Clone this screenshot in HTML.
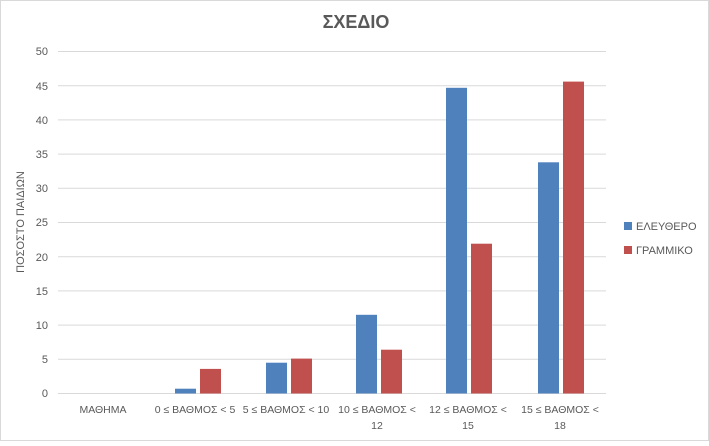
<!DOCTYPE html>
<html><head><meta charset="utf-8"><style>
body{margin:0;background:#fff}
svg text{font-family:"Liberation Sans",sans-serif;fill:#595959}
</style></head><body>
<svg width="709" height="441" viewBox="0 0 709 441" xmlns="http://www.w3.org/2000/svg">
<rect x="0.5" y="0.5" width="708" height="440" fill="#fff" stroke="#d9d9d9"/>
<text x="356" y="28" font-size="18" font-weight="bold" text-anchor="middle">ΣΧΕΔΙΟ</text>
<g stroke="#d9d9d9" stroke-width="1">
<line x1="58" x2="606" y1="51.5" y2="51.5"/>
<line x1="58" x2="606" y1="85.7" y2="85.7"/>
<line x1="58" x2="606" y1="119.9" y2="119.9"/>
<line x1="58" x2="606" y1="154.1" y2="154.1"/>
<line x1="58" x2="606" y1="188.3" y2="188.3"/>
<line x1="58" x2="606" y1="222.5" y2="222.5"/>
<line x1="58" x2="606" y1="256.7" y2="256.7"/>
<line x1="58" x2="606" y1="290.9" y2="290.9"/>
<line x1="58" x2="606" y1="325.1" y2="325.1"/>
<line x1="58" x2="606" y1="359.3" y2="359.3"/>
<line x1="58" x2="606" y1="393.5" y2="393.5"/>
</g>
<g font-size="11" text-anchor="end">
<text x="48" y="55">50</text><text x="48" y="90">45</text><text x="48" y="124">40</text>
<text x="48" y="158">35</text><text x="48" y="192">30</text><text x="48" y="226">25</text>
<text x="48" y="261">20</text><text x="48" y="295">15</text><text x="48" y="329">10</text>
<text x="48" y="363">5</text><text x="48" y="397">0</text>
</g>
<text transform="translate(24,222) rotate(-90)" font-size="11" text-anchor="middle">ΠΟΣΟΣΤΟ ΠΑΙΔΙΩΝ</text>
<g fill="#4f81bd">
<rect x="175" y="388.7" width="21" height="4.8"/>
<rect x="266" y="362.7" width="21" height="30.8"/>
<rect x="356" y="314.8" width="21" height="78.7"/>
<rect x="446" y="87.8" width="21" height="305.7"/>
<rect x="538" y="162.3" width="21" height="231.2"/>
</g>
<g fill="#c0504d">
<rect x="200" y="368.9" width="21" height="24.6"/>
<rect x="291" y="358.6" width="21" height="34.9"/>
<rect x="381" y="349.7" width="21" height="43.8"/>
<rect x="471" y="243.7" width="21" height="149.8"/>
<rect x="563" y="81.6" width="21" height="311.9"/>
</g>
<g font-size="10.5" text-anchor="middle">
<text x="103" y="413">ΜΑΘΗΜΑ</text>
<text x="195" y="413">0 ≤ ΒΑΘΜΟΣ &lt; 5</text>
<text x="286" y="413">5 ≤ ΒΑΘΜΟΣ &lt; 10</text>
<text x="377" y="413">10 ≤ ΒΑΘΜΟΣ &lt;</text><text x="377" y="429">12</text>
<text x="468" y="413">12 ≤ ΒΑΘΜΟΣ &lt;</text><text x="468" y="429">15</text>
<text x="560" y="413">15 ≤ ΒΑΘΜΟΣ &lt;</text><text x="560" y="429">18</text>
</g>
<rect x="624" y="222" width="8" height="8" fill="#4f81bd"/>
<text x="636" y="230" font-size="11">ΕΛΕΥΘΕΡΟ</text>
<rect x="624" y="246" width="8" height="8" fill="#c0504d"/>
<text x="636" y="254" font-size="11">ΓΡΑΜΜΙΚΟ</text>
</svg>
</body></html>
